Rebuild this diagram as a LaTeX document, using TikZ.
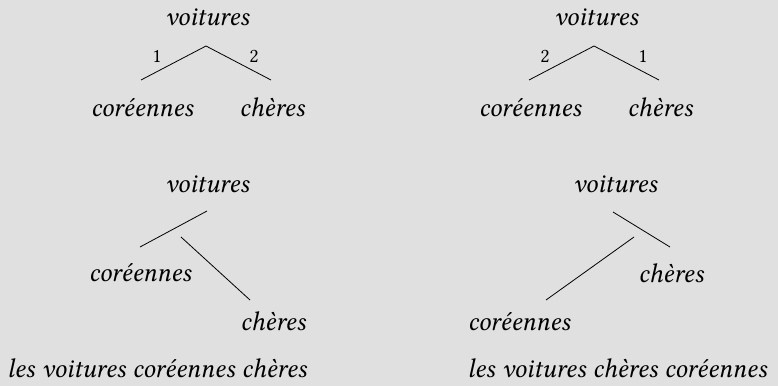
\documentclass[tikz,border=0pt]{standalone}
\usepackage{fontspec}
\setmainfont{Libertinus Serif}
\definecolor{bg}{RGB}{224,224,224}
\begin{document}
\begin{tikzpicture}[x=1pt,y=-1pt,
  word/.style={anchor=base,inner sep=0pt,font=\fontsize{27}{30}\selectfont\itshape},
  num/.style={anchor=base,inner sep=0pt,font=\fontsize{20}{22}\selectfont},
  branch/.style={line width=0.8pt}]
\fill[bg] (0,0) rectangle (778,386);
\useasboundingbox (0,0) rectangle (778,386);
% top left
\node[word] (v1) at (207,25) {voitures};
\node[word] (c1) at (142,116) {coréennes};
\node[word] (h1) at (272,116) {chères};
\coordinate (a1) at (206,46);
\coordinate (l1) at (141,80);
\coordinate (r1) at (271,80);
\draw[branch] (l1) -- (a1) -- (r1);
\node[num] (n11) at (157,62) {1};
\node[num] (n12) at (254,62) {2};
% top right
\node[word] (v2) at (596,25) {voitures};
\node[word] (c2) at (530,116) {coréennes};
\node[word] (h2) at (660,116) {chères};
\coordinate (a2) at (594,46);
\coordinate (l2) at (529,80);
\coordinate (r2) at (659,80);
\draw[branch] (l2) -- (a2) -- (r2);
\node[num] (n21) at (545,62) {2};
\node[num] (n22) at (643,62) {1};
% bottom left
\node[word] (v3) at (207,192) {voitures};
\node[word] (c3) at (140,281) {coréennes};
\node[word] (h3) at (273,330) {chères};
\coordinate (p3a) at (140,247);
\coordinate (p3b) at (207,211);
\coordinate (q3a) at (181,237);
\coordinate (q3b) at (250,300);
\draw[branch] (p3a) -- (p3b);
\draw[branch] (q3a) -- (q3b);
\node[word,anchor=base west] (s3) at (7,377) {les voitures coréennes chères};
% bottom right
\node[word] (v4) at (615,192) {voitures};
\node[word] (h4) at (671,282) {chères};
\node[word] (c4) at (519,330) {coréennes};
\coordinate (p4a) at (613,212);
\coordinate (p4b) at (670,247);
\coordinate (q4a) at (634,237);
\coordinate (q4b) at (546,300);
\draw[branch] (p4a) -- (p4b);
\draw[branch] (q4a) -- (q4b);
\node[word,anchor=base east] (s4) at (767,377) {les voitures chères coréennes};
\end{tikzpicture}
\end{document}
